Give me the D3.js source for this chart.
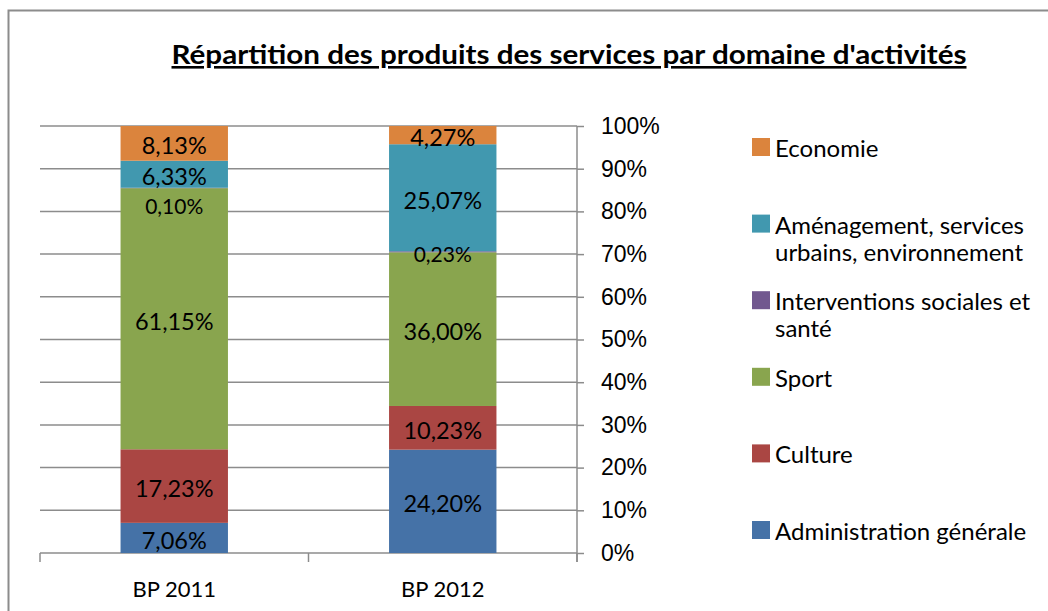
<!DOCTYPE html>
<html>
<head>
<meta charset="utf-8">
<title>Répartition des produits des services par domaine d'activités</title>
<script src="https://d3js.org/d3.v7.min.js"></script>
<style>
    body{margin:0;background:#fff;}
    svg{font-family:Lato,"Open Sans",sans-serif;}
    .grid line{stroke:#8c8c8c;stroke-width:1.5;}
    .axis path,.axis line{stroke:#8c8c8c;stroke-width:1.5;fill:none;}
    .axis text{fill:#000;}
    .lbl{fill:#000;text-anchor:middle;dominant-baseline:central;}
</style>
</head>
<body>
<svg id="chart" width="1048" height="611"></svg>
<script>
// values, in %
const categories = ["BP 2011", "BP 2012"];
const seriesNames = ["Administration générale", "Culture", "Sport",
    "Interventions sociales et santé", "Aménagement, services urbains, environnement", "Economie"];
const administration = [7.06, 24.20];
const culture = [17.23, 10.23];
const sport = [61.15, 36.00];
const social = [0.10, 0.23];
const amenagement = [6.33, 25.07];
const economie = [8.13, 4.27];
const yTicks = [0, 10, 20, 30, 40, 50, 60, 70, 80, 90, 100];
const colors = ["#4572A7", "#AA4643", "#89A54E", "#71588F", "#4198AF", "#DB843D"];

const seriesValues = [administration, culture, sport, social, amenagement, economie];
const rows = categories.map((c, i) => {
    let r = {cat: c};
    seriesNames.forEach((s, k) => r[s] = seriesValues[k][i]);
    return r;
});

const svg = d3.select("#chart");
const plotLeft = 40, plotRight = 577, plotTop = 126, plotBottom = 553;

// outer frame (only left and top edges show in the shot)
svg.append("rect").attr("x", 8.5).attr("y", 10.5).attr("width", 1100).attr("height", 700)
    .attr("fill", "none").attr("stroke", "#8c8c8c").attr("stroke-width", 2);

svg.append("text").attr("x", 569).attr("y", 64)
    .attr("text-anchor", "middle").attr("font-weight", "bold").attr("font-size", 26)
    .attr("textLength", 795).attr("lengthAdjust", "spacingAndGlyphs")
    .style("text-decoration", "underline")
    .text("Répartition des produits des services par domaine d'activités");

const y = d3.scaleLinear().domain([0, 100]).range([plotBottom, plotTop]);
const x = d3.scaleBand().domain(categories).range([plotLeft, plotRight]).paddingInner(0.6).paddingOuter(0.3);

// gridlines
svg.append("g").attr("class", "grid").selectAll("line").data(yTicks).enter().append("line")
    .attr("x1", plotLeft).attr("x2", plotRight).attr("y1", d => y(d)).attr("y2", d => y(d));

// right value axis
const yAxis = svg.append("g").attr("class", "axis").attr("transform", `translate(${plotRight},0)`)
    .call(d3.axisRight(y).tickValues(yTicks).tickSize(7).tickPadding(17).tickFormat(d => d + "%"));
yAxis.select(".domain").attr("d", `M0,${plotTop}V${plotBottom + 9}`);
yAxis.selectAll("text").attr("font-size", 23).attr("text-anchor", "start");

// category axis: boundary ticks between categories
const catTicks = d3.range(categories.length + 1).map(i => plotLeft + i * (plotRight - plotLeft) / categories.length);
svg.append("g").attr("class", "axis").selectAll("line").data(catTicks).enter().append("line")
    .attr("x1", d => d).attr("x2", d => d).attr("y1", plotBottom).attr("y2", plotBottom + 9);
svg.append("g").selectAll("text").data(categories).enter().append("text")
    .attr("x", d => x(d) + x.bandwidth() / 2).attr("y", 597)
    .attr("text-anchor", "middle").attr("font-size", 22).text(d => d);

const stack = d3.stack().keys(seriesNames)(rows);

const layers = svg.append("g").selectAll("g").data(stack).enter().append("g")
    .attr("fill", (d, i) => colors[i]);
layers.selectAll("rect").data(d => d).enter().append("rect")
    .attr("x", d => x(d.data.cat)).attr("width", x.bandwidth())
    .attr("y", d => y(d[1])).attr("height", d => y(d[0]) - y(d[1]));

// data labels, pushed down when they collide with the one above
const fmt = v => v.toFixed(2).replace(".", ",") + "%";
categories.forEach((c, ci) => {
    let prev = -Infinity;
    const items = stack.map((s, k) => ({k: k, v: s[ci][1] - s[ci][0], yc: (y(s[ci][0]) + y(s[ci][1])) / 2})).reverse();
    items.forEach(it => {
        it.yc = Math.max(it.yc, prev + 29);
        prev = it.yc;
    });
    svg.append("g").selectAll("text").data(items).enter().append("text")
        .attr("class", "lbl")
        .attr("x", x(c) + x.bandwidth() / 2).attr("y", d => d.yc + 2)
        .attr("font-size", d => d.k === 3 ? 21 : 23.5)
        .text(d => fmt(d.v));
});

// legend, top entry = top of stack
const legendItems = seriesNames.slice().reverse();
const ly = d3.scalePoint().domain(legendItems).range([147, 530]);
const leg = svg.append("g").selectAll("g").data(legendItems).enter().append("g")
    .attr("transform", d => `translate(752,${ly(d)})`);
leg.append("rect").attr("x", 0).attr("y", -9).attr("width", 18).attr("height", 18)
    .attr("fill", d => colors[seriesNames.indexOf(d)]);
leg.each(function (d) {
    const t = d3.select(this).append("text").attr("x", 23).attr("y", 0)
        .attr("font-size", 24).attr("dominant-baseline", "central");
    const words = d.split(" ");
    let line = [], tspan = t.append("tspan").attr("x", 23).attr("dy", 0);
    words.forEach(w => {
        line.push(w);
        tspan.text(line.join(" "));
        if (tspan.node().getComputedTextLength() > 265 && line.length > 1) {
            line.pop();
            tspan.text(line.join(" "));
            line = [w];
            tspan = t.append("tspan").attr("x", 23).attr("dy", 27).text(w);
        }
    });
});
</script>
</body>
</html>
